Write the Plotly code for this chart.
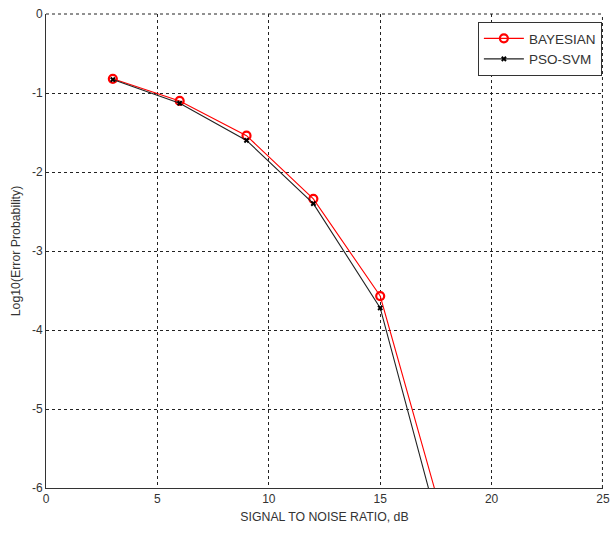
import plotly.graph_objects as go

# Detection error vs. SNR for the two classifiers
snr_db = [3, 6, 9, 12, 15, 18]
bayesian = [-0.82, -1.10, -1.54, -2.34, -3.57, -6.57]
pso_svm = [-0.83, -1.13, -1.60, -2.40, -3.72, -6.88]

x_ticks = [0, 5, 10, 15, 20, 25]
y_ticks = [0, -1, -2, -3, -4, -5, -6]
y_tick_text = ["0", "-1", "-2", "-3", "-4", "-5", "-6"]

font_family = "Liberation Sans, Arial, sans-serif"
grid_color = "#222222"

fig = go.Figure()
fig.add_trace(go.Scatter(
    x=snr_db, y=bayesian, name="BAYESIAN", mode="lines+markers",
    line=dict(color="#ff0000", width=1.1),
    marker=dict(symbol="circle-open", size=8, color="#ff0000",
                line=dict(width=2.2, color="#ff0000")),
))
fig.add_trace(go.Scatter(
    x=snr_db, y=pso_svm, name="PSO-SVM", mode="lines+markers",
    line=dict(color="#222222", width=1.1),
    marker=dict(symbol="x", size=5, color="#000000"),
))

axis_common = dict(
    showline=True, linecolor="#333333", linewidth=1,
    showgrid=True, gridcolor=grid_color, griddash="dot", gridwidth=1,
    zeroline=False, ticks="outside", ticklen=0,
    tickfont=dict(family=font_family, size=12, color="#333333"),
    mirror=False, automargin=False,
)

fig.update_xaxes(
    range=[0, 25], tickvals=x_ticks,
    title=dict(text="SIGNAL TO NOISE RATIO, dB",
               font=dict(family=font_family, size=12.3, color="#333333"),
               standoff=6),
    **axis_common,
)
fig.update_yaxes(
    range=[-6, 0], tickvals=y_ticks, ticktext=y_tick_text,
    title=dict(text="Log10(Error Probability)",
               font=dict(family=font_family, size=12.3, color="#333333"),
               standoff=8),
    **axis_common,
)

# dotted grid lines along the top and right edges of the plot area
fig.add_shape(type="line", xref="paper", yref="paper", x0=0, x1=1, y0=1, y1=1,
              line=dict(color=grid_color, width=1, dash="dot"), layer="below")
fig.add_shape(type="line", xref="paper", yref="paper", x0=0.999, x1=0.999, y0=0, y1=1,
              line=dict(color=grid_color, width=1, dash="dot"), layer="below")

fig.update_layout(
    width=611, height=533,
    margin=dict(l=46, r=8, t=14, b=45),
    plot_bgcolor="white", paper_bgcolor="white",
    showlegend=True,
    legend=dict(
        x=0.998, y=0.983, xanchor="right", yanchor="top",
        bgcolor="white", bordercolor="#333333", borderwidth=1,
        font=dict(family=font_family, size=13.5, color="#333333"),
        itemwidth=40, tracegroupgap=2,
    ),
)

fig.write_html("out.html")
